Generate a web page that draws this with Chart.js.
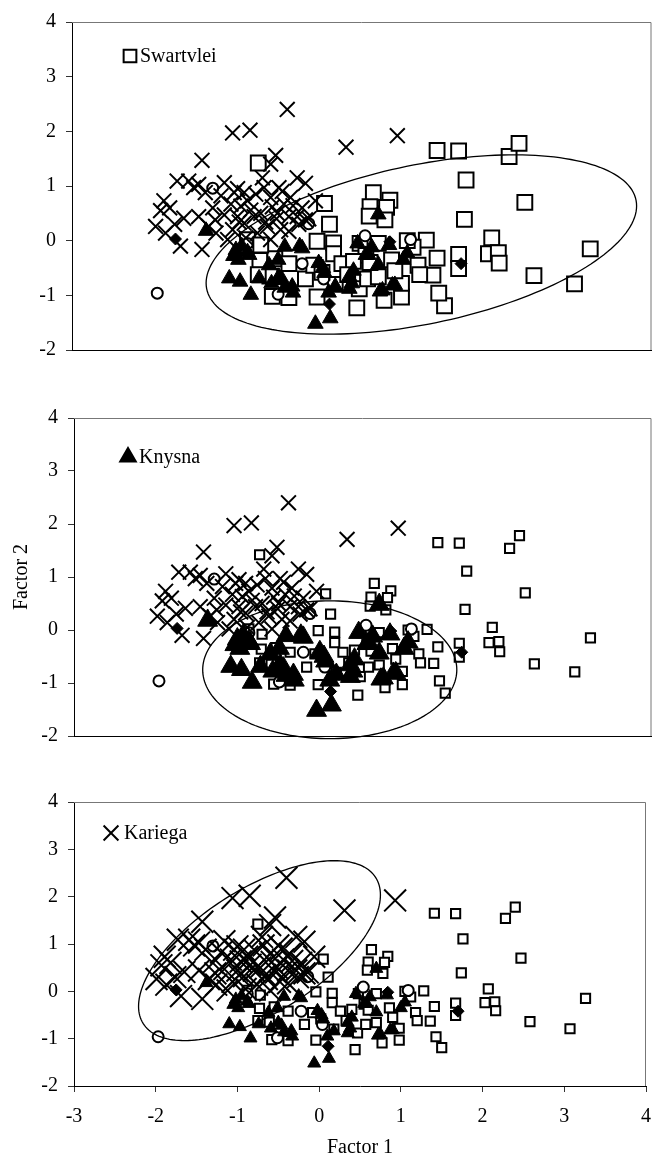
<!DOCTYPE html>
<html>
<head>
<meta charset="utf-8">
<script src="https://cdn.jsdelivr.net/npm/chart.js@4.4.1/dist/chart.umd.min.js"></script>
<style>
  html, body { margin: 0; padding: 0; background: #fff; }
  #wrap { position: relative; width: 664px; height: 1160px; }
  canvas { position: absolute; left: 0; }
</style>
</head>
<body>
<div id="wrap">
  <canvas id="c1" width="664" height="372" style="top:0px"></canvas>
  <canvas id="c2" width="664" height="362" style="top:396px"></canvas>
  <canvas id="c3" width="664" height="380" style="top:780px"></canvas>
</div>
<script>
// axis ticks
const xTicks = [-3, -2, -1, 0, 1, 2, 3, 4];
const yTicks = [-2, -1, 0, 1, 2, 3, 4];

// factor scores per estuary [factor1, factor2]
const swartvlei = [
  [-0.75, 1.42], [1.41, 1.65], [1.67, 1.64], [2.28, 1.54], [2.40, 1.78], [1.76, 1.11],
  [2.47, 0.70], [1.74, 0.39], [2.07, 0.05], [2.03, -0.24], [2.15, -0.22], [2.16, -0.41],
  [3.26, -0.15], [2.58, -0.64], [3.07, -0.79], [1.50, -1.19], [1.43, -0.96], [1.36, -0.63],
  [1.41, -0.32], [1.67, -0.25], [1.67, -0.51], [1.28, 0.01], [1.18, -0.45], [0.64, 0.88],
  [0.84, 0.74], [0.60, 0.62], [0.80, 0.61], [0.59, 0.45], [0.78, 0.38], [0.05, 0.68],
  [0.11, 0.30], [-0.88, 0.02], [-0.73, -0.36], [-0.55, -0.33], [-0.38, -0.42], [-0.61, -0.65],
  [-0.58, -1.02], [-0.38, -1.04], [-0.18, -0.70], [-0.04, -1.03], [-0.04, -0.01], [0.16, -0.04],
  [0.16, -0.24], [0.26, -0.42], [0.18, -0.80], [0.44, -1.23], [0.47, -0.88], [0.57, -0.70],
  [0.70, -0.66], [0.77, -1.09], [0.98, -1.03], [0.98, -0.78], [0.86, -0.35], [0.70, -0.05],
  [0.48, -0.05], [0.55, -0.27], [1.12, -0.12], [1.20, -0.62], [0.40, -0.38], [0.33, -0.62],
  [-0.75, -0.62], [0.60, -0.40], [1.05, 0.00], [0.90, -0.55], [-0.08, -0.45], [-0.72, -0.08],
  [0.02, -0.58]
];
const knysna = [
  [0.70, 0.48], [-1.38, 0.18], [-1.02, -0.17], [-0.99, -0.35], [-0.86, -0.26], [-1.10, -0.69],
  [-0.97, -0.75], [-0.84, -0.99], [-0.74, -0.69], [-0.59, -0.78], [-0.46, -0.72], [-0.34, -0.84],
  [-0.43, -0.11], [-0.51, -0.35], [-0.22, -0.14], [-0.02, -0.41], [0.03, -0.50], [0.18, -0.84],
  [0.35, -0.66], [0.38, -0.78], [0.45, -0.05], [0.55, -0.26], [0.70, -0.44], [0.72, -0.93],
  [0.90, -0.81], [0.83, -0.08], [1.00, -0.35], [1.05, -0.23], [-0.06, -1.52], [0.12, -1.42],
  [-1.05, -0.28], [-0.88, -0.21], [-0.50, -0.66], [-0.43, -0.86], [-0.33, -0.95], [-0.25, -0.10],
  [0.05, -0.59], [0.35, -0.88], [0.58, -0.26], [0.75, -0.91], [0.87, -0.82], [0.62, -0.12],
  [0.40, -0.55], [-0.62, -0.45], [0.10, -0.95], [-0.95, -0.10]
];
const kariega = [
  [-0.40, 2.40], [-1.06, 1.97], [-0.85, 2.02], [0.31, 1.71], [0.93, 1.92], [-1.43, 1.47],
  [-0.54, 1.56], [-0.60, 1.40], [-0.28, 1.15], [-0.18, 1.05], [-1.73, 1.09], [-1.59, 1.09],
  [-1.47, 1.03], [-1.39, 0.88], [-1.89, 0.73], [-1.93, 0.55], [-1.99, 0.26], [-1.87, 0.14],
  [-1.69, -0.10], [-1.43, -0.16], [-1.65, 0.41], [-1.47, 0.44], [-1.35, 0.26], [-1.26, 0.14],
  [-1.16, 1.06], [-1.04, 0.88], [-0.92, 0.88], [-1.08, 0.67], [-0.96, 0.63], [-0.88, 0.73],
  [-1.00, 0.44], [-1.06, 0.20], [-0.92, 0.32], [-0.80, 0.44], [-0.70, 1.15], [-0.68, 0.97],
  [-0.60, 0.79], [-0.50, 0.97], [-0.44, 0.67], [-0.36, 0.79], [-0.52, 0.50], [-0.38, 0.44],
  [-0.28, 0.44], [-0.18, 0.38], [-0.06, 0.73], [-0.64, 0.26], [-0.76, 0.14], [-0.48, 0.20],
  [-0.60, 0.02], [-1.12, 0.02], [-0.84, 0.56], [-1.16, 0.47], [-1.27, 0.38], [-1.53, 0.97],
  [-1.82, 0.60], [-1.76, 0.30], [-1.20, 0.82], [-0.98, 0.34], [-0.66, 0.34], [-0.58, 0.62],
  [-0.33, 0.64], [-0.26, 0.30], [-0.38, 0.17], [-1.00, 0.95], [-0.78, 0.85], [-0.46, 0.90],
  [-0.14, 0.40], [-0.72, 0.50], [-1.30, 0.60], [-0.90, 0.05], [-0.53, 0.40], [-0.22, 0.60]
];
const otherOpen = [
  [-1.97, -0.96], [-0.88, -0.05], [-0.14, 0.31], [0.54, 0.09], [1.09, 0.02], [-0.22, -0.42],
  [-0.51, -0.98], [0.04, -0.70], [-1.30, 0.96]
];
const otherFilled = [[-1.75, 0.03], [0.11, -1.16], [1.70, -0.42], [0.84, -0.02]];

// group ellipses: centre, half-extent in x and y, correlation
const swartvleiEllipse = { cx: 1.22, cy: -0.07, sx: 2.60, sy: 1.64, rho: 0.43 };
const knysnaEllipse = { cx: 0.10, cy: -0.75, sx: 1.54, sy: 1.30, rho: 0.0 };
const kariegaEllipse = { cx: -0.73, cy: 0.86, sx: 1.48, sy: 1.90, rho: 0.62 };

const serif = 'Liberation Serif';
const toXY = arr => arr.map(([x, y]) => ({ x, y }));

const panels = [
  { id: 'c1', name: 'Swartvlei', ellipse: swartvleiEllipse, yWidth: 72, xHeight: 18, padRight: 5,
    bottomAxis: false, yTitle: false, r: { sq: 10.5, tri: 9, cross: 10.5 },
    key: { style: 'rect', fill: '#fff', radius: 9, x: 130, y: 56, textX: 140 } },
  { id: 'c2', name: 'Knysna', ellipse: knysnaEllipse, yWidth: 74, xHeight: 20, padRight: 6,
    bottomAxis: false, yTitle: true, r: { sq: 6.5, tri: 11.5, cross: 10.5 },
    key: { style: 'triangle', fill: '#000', radius: 9, x: 128, y: 61, textX: 139 } },
  { id: 'c3', name: 'Kariega', ellipse: kariegaEllipse, yWidth: 74, xHeight: 74, padRight: 5,
    bottomAxis: true, yTitle: false, r: { sq: 6.5, tri: 7.5, cross: 15.5 },
    key: { style: 'crossRot', fill: '#000', radius: 10.5, x: 111, y: 53, textX: 124 } }
];

// grey top/right frame of the plot area
const framePlugin = {
  id: 'frame',
  beforeDatasetsDraw(chart) {
    const { ctx, chartArea: a } = chart;
    ctx.save();
    ctx.strokeStyle = '#777';
    ctx.lineWidth = 1;
    ctx.beginPath();
    ctx.moveTo(a.left, a.top + 0.5);
    ctx.lineTo(a.right - 0.5, a.top + 0.5);
    ctx.lineTo(a.right - 0.5, a.bottom);
    ctx.stroke();
    ctx.restore();
  }
};

// group ellipse traced through the chart scales
const ellipsePlugin = {
  id: 'groupEllipse',
  afterDatasetsDraw(chart, args, opts) {
    const e = opts.ellipse;
    if (!e) return;
    const { ctx, scales: { x, y } } = chart;
    const k = Math.sqrt(1 - e.rho * e.rho);
    ctx.save();
    ctx.strokeStyle = '#000';
    ctx.lineWidth = 1.3;
    ctx.beginPath();
    for (let i = 0; i <= 180; i++) {
      const t = (i / 180) * Math.PI * 2;
      const px = x.getPixelForValue(e.cx + e.sx * Math.cos(t));
      const py = y.getPixelForValue(e.cy + e.sy * (e.rho * Math.cos(t) + k * Math.sin(t)));
      if (i === 0) ctx.moveTo(px, py); else ctx.lineTo(px, py);
    }
    ctx.closePath();
    ctx.stroke();
    ctx.restore();
  }
};

// marker + estuary name in the upper left
const keyPlugin = {
  id: 'lakeKey',
  afterDraw(chart, args, opts) {
    const ctx = chart.ctx;
    ctx.save();
    ctx.fillStyle = opts.fill;
    ctx.strokeStyle = '#000';
    ctx.lineWidth = 2;
    Chart.helpers.drawPoint(ctx, { pointStyle: opts.style, radius: opts.radius, rotation: 0, borderWidth: 2 }, opts.x, opts.y);
    ctx.fillStyle = '#000';
    ctx.font = '20px "' + serif + '"';
    ctx.textBaseline = 'middle';
    ctx.textAlign = 'left';
    ctx.fillText(opts.text, opts.textX, opts.y + 1);
    ctx.restore();
  }
};

function buildChart(p) {
  // lower order is painted on top
  const datasets = [
    { label: 'Swartvlei', data: toXY(swartvlei), pointStyle: 'rect', pointRadius: p.r.sq,
      pointBackgroundColor: '#fff', pointBorderColor: '#000', pointBorderWidth: 2, order: 5 },
    { label: 'open', data: toXY(otherOpen), pointStyle: 'circle', pointRadius: 5.5,
      pointBackgroundColor: '#fff', pointBorderColor: '#000', pointBorderWidth: 2, order: 4 },
    { label: 'Knysna', data: toXY(knysna), pointStyle: 'triangle', pointRadius: p.r.tri,
      pointBackgroundColor: '#000', pointBorderColor: '#000', pointBorderWidth: 1, order: 3 },
    { label: 'Kariega', data: toXY(kariega), pointStyle: 'crossRot', pointRadius: p.r.cross,
      pointBackgroundColor: '#000', pointBorderColor: '#000', pointBorderWidth: 2, order: 2 },
    { label: 'filled', data: toXY(otherFilled), pointStyle: 'rectRot', pointRadius: 6,
      pointBackgroundColor: '#000', pointBorderColor: '#000', pointBorderWidth: 1, order: 1 }
  ];

  const tickFont = { family: serif, size: 20 };

  return new Chart(document.getElementById(p.id), {
    type: 'scatter',
    data: { datasets },
    plugins: [framePlugin, ellipsePlugin, keyPlugin],
    options: {
      responsive: false,
      animation: false,
      events: [],
      layout: { padding: { left: 0, right: p.padRight, top: 16, bottom: 0 } },
      plugins: {
        legend: { display: false },
        tooltip: { enabled: false },
        groupEllipse: { ellipse: p.ellipse },
        lakeKey: Object.assign({ text: p.name }, p.key)
      },
      scales: {
        x: {
          type: 'linear',
          min: xTicks[0],
          max: xTicks[xTicks.length - 1],
          afterFit: s => { s.height = p.xHeight; },
          afterBuildTicks: s => { s.ticks = xTicks.map(v => ({ value: v })); },
          grid: { display: p.bottomAxis, drawOnChartArea: false, tickLength: 6, color: '#333' },
          border: { display: true, color: '#000', width: 1 },
          ticks: { display: p.bottomAxis, padding: 13, color: '#000', font: tickFont, maxRotation: 0 },
          title: { display: p.bottomAxis, text: 'Factor 1', color: '#000', font: tickFont, padding: { top: 0, bottom: 0 } }
        },
        y: {
          type: 'linear',
          min: yTicks[0],
          max: yTicks[yTicks.length - 1],
          afterFit: s => { s.width = p.yWidth; },
          afterBuildTicks: s => { s.ticks = yTicks.map(v => ({ value: v })); },
          grid: { drawOnChartArea: false, tickLength: 6, color: '#333' },
          border: { display: true, color: '#000', width: 1 },
          ticks: { padding: 10, color: '#000', font: tickFont },
          title: { display: p.yTitle, text: 'Factor 2', color: '#000', font: tickFont, padding: { top: 10, bottom: 0 } }
        }
      }
    }
  });
}

panels.forEach(buildChart);
</script>
</body>
</html>
